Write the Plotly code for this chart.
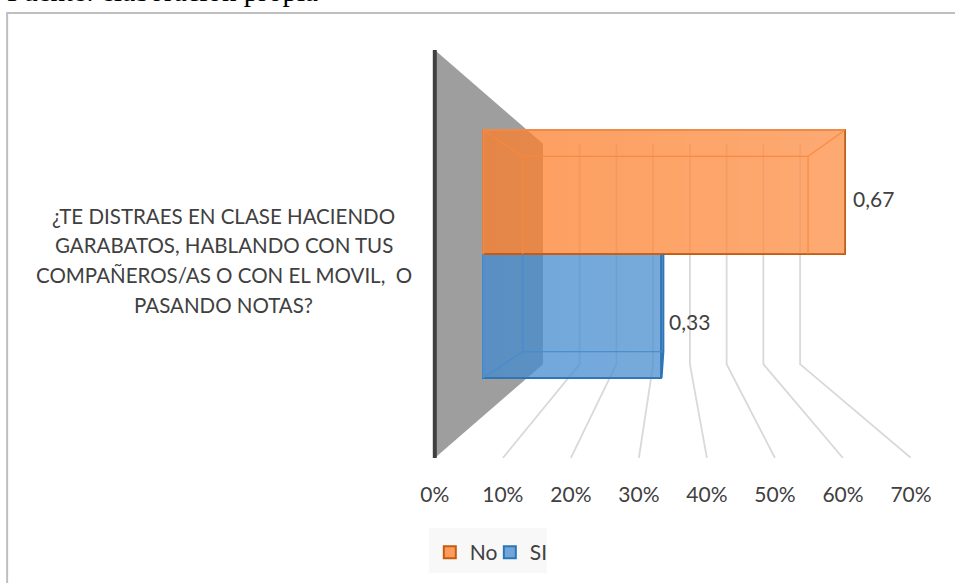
import plotly.graph_objects as go

# --- data ---
series_names = ["No", "SI"]
series_values = [0.67, 0.33]
category_lines = ["¿TE DISTRAES EN CLASE HACIENDO", "GARABATOS, HABLANDO CON TUS",
                  "COMPAÑEROS/AS O CON EL MOVIL,  O", "PASANDO NOTAS?"]
tick_values = [0, 0.1, 0.2, 0.3, 0.4, 0.5, 0.6, 0.7]
source_text = "Fuente: elaboración propia"

# --- page geometry ---
W, H = 955, 583
X_MIN = -0.01                   # small room left of 0% so the thick axis line is not clipped
L, R, T, B = 435 + X_MIN * 680, 911, 50, 458


def pap_x(p):
    return (p - L) / (R - L)


def pap_y(p):
    return (B - p) / (B - T)


# --- perspective of the 3D look (axis units) ---
VX = (670 - 435) / 680      # vanishing point on the value axis
S_BACK = 0.54               # scale of the back wall
S_BAR_FRONT = 0.794         # scale of the bars' front faces
S_BAR_BACK = 0.626          # scale of the bars' back faces
BAR_H = 0.765               # half height of the pair of bars (axis units)


def px(v, s):
    return VX + (v - VX) * s


def py(y, s):
    return y * s


def path(points):
    return "M " + " L ".join(f"{x:.5f} {y:.5f}" for x, y in points)


FONT = "Lato"
TXT = "#404040"
fill = ["rgba(252,126,42,0.75)", "rgba(66,138,206,0.75)"]
edge = ["#C55A11", "#2E75B6"]
soft_edge = ["#EE8B4A", "#4A90D0"]
inner = ["rgba(250,135,60,0.9)", "rgba(70,140,205,0.9)"]
glow = [0.12, 0.04]
spans = [(0, 1), (-1, 0)]   # upper / lower half of the bar block
label_shift = [-6, -6]
legend_ids = ["legend", "legend2"]

fig = go.Figure()
shapes = []

# side wall
shapes.append(dict(type="path", xref="x", yref="y", layer="below", fillcolor="#9E9E9E",
                   line=dict(width=0),
                   path=path([(px(0, 1), py(1, 1)), (px(0, S_BACK), py(1, S_BACK)),
                              (px(0, S_BACK), py(-1, S_BACK)), (px(0, 1), py(-1, 1))]) + " Z"))
# gridlines: back wall then floor
for t in tick_values[1:]:
    shapes.append(dict(type="path", xref="x", yref="y", layer="below",
                       line=dict(color="#D9D9D9", width=1.8),
                       path=path([(px(t, S_BACK), py(1, S_BACK)), (px(t, S_BACK), py(-1, S_BACK)),
                                  (px(t, 1), py(-1, 1))])))
# chart frame
shapes.append(dict(type="path", xref="paper", yref="paper", layer="below",
                   line=dict(color="#BFBFBF", width=2),
                   path=path([(pap_x(7.5), pap_y(H)), (pap_x(7.5), pap_y(13)), (pap_x(W), pap_y(13))])))
# legend plate
shapes.append(dict(type="rect", xref="paper", yref="paper", layer="below", line=dict(width=0),
                   fillcolor="#F8F8F8", x0=pap_x(429), x1=pap_x(547), y0=pap_y(573), y1=pap_y(528)))

# axis line
fig.add_trace(go.Scatter(
    x=[0, 0], y=[-1, 1], mode="lines", line=dict(color="#404040", width=4),
    showlegend=False, hoverinfo="skip", cliponaxis=False))

# bars: lower one first
for i in [1, 0]:
    v = series_values[i]
    lo, hi = spans[i]
    yf0, yf1 = lo * BAR_H * S_BAR_FRONT, hi * BAR_H * S_BAR_FRONT
    yb0, yb1 = lo * BAR_H * S_BAR_BACK, hi * BAR_H * S_BAR_BACK
    x0f, x1f = px(0, S_BAR_FRONT), px(v, S_BAR_FRONT)
    x0b, x1b = px(0, S_BAR_BACK), px(v, S_BAR_BACK)
    # front face as a real bar trace (carries the legend entry)
    fig.add_trace(go.Bar(
        orientation="h", name=series_names[i], legend=legend_ids[i],
        y=[(yf0 + yf1) / 2], x=[x1f - x0f], base=[x0f], width=[yf1 - yf0],
        marker=dict(color=fill[i], line=dict(color=edge[i], width=2)),
        hoverinfo="skip", cliponaxis=False))
    # soft highlight towards the right
    fig.add_trace(go.Scatter(
        x=[x0f, x1f, x1f, x0f, x0f], y=[yf1, yf1, yf0, yf0, yf1],
        mode="lines", line=dict(width=0), fill="toself",
        fillgradient=dict(type="horizontal",
                          colorscale=[[0, "rgba(255,255,255,0)"], [1, f"rgba(255,255,255,{glow[i]})"]]),
        showlegend=False, hoverinfo="skip", cliponaxis=False))
    # inner box edges
    if i == 1:
        xs = [x0f, x0b, None, x0b, x1b, None, x0b, x0b]
        ys = [yf0, yb0, None, yb0, yb0, None, yb0, yf1]
    else:
        xs = [x0f, x0b, None, x1f, x1b, None, x0b, x1b, None, x0b, x0b, None, x1b, x1b]
        ys = [yf1, yb1, None, yf1, yb1, None, yb1, yb1, None, yb1, yf0, None, yb1, yf0]
    fig.add_trace(go.Scatter(
        x=xs, y=ys, mode="lines", line=dict(color=inner[i], width=1.2),
        showlegend=False, hoverinfo="skip", cliponaxis=False))
    # softer top and left edges of the front face
    if i == 0:
        xs, ys = [x0f, x0f, x1f], [yf0, yf1, yf1]
    else:
        xs, ys = [x0f, x0f], [yf0, yf1]
    fig.add_trace(go.Scatter(
        x=xs, y=ys, mode="lines", line=dict(color=soft_edge[i], width=2),
        showlegend=False, hoverinfo="skip", cliponaxis=False))
    # blue bar: heavy right side running to the back
    if i == 1:
        fig.add_trace(go.Scatter(
            x=[x1f, x1b, x1b], y=[yf0, yb0, yf1], mode="lines",
            line=dict(color=edge[i], width=2.2),
            showlegend=False, hoverinfo="skip", cliponaxis=False))
    # data label
    fig.add_annotation(
        x=x1f, y=(yf0 + yf1) / 2, xref="x", yref="y", xanchor="left", yanchor="middle",
        xshift=6, yshift=label_shift[i], showarrow=False,
        text=f"{v:.2f}".replace(".", ","), font=dict(family=FONT, size=21, color=TXT))

# category label
for k, line in enumerate(category_lines):
    fig.add_annotation(
        x=pap_x(224), y=pap_y(216 + 29.5 * k), xref="paper", yref="paper",
        xanchor="center", yanchor="middle", align="center", showarrow=False,
        text=line, font=dict(family=FONT, size=20.5, color=TXT))

# source line, cut off by the top of the page as in the reference
fig.add_annotation(
    x=pap_x(7), y=pap_y(9), xref="paper", yref="paper", xanchor="left", yanchor="bottom",
    showarrow=False, xshift=-2, text=source_text,
    font=dict(family="Liberation Serif", size=29, color="#000000"))

legend_style = dict(orientation="h", yanchor="top", xanchor="left", y=pap_y(532),
                    bgcolor="rgba(0,0,0,0)", font=dict(family=FONT, size=21, color=TXT),
                    itemwidth=30)

fig.update_layout(
    width=W, height=H, autosize=False,
    paper_bgcolor="white", plot_bgcolor="rgba(0,0,0,0)",
    margin=dict(l=L, r=W - R, t=T, b=H - B, autoexpand=False),
    barmode="overlay", bargap=0,
    xaxis=dict(range=[X_MIN, 0.7], tickvals=tick_values, tickformat=".0%", showgrid=False,
               zeroline=False, showline=False, ticks="", ticklabelstandoff=22,
               tickfont=dict(family=FONT, size=21, color=TXT)),
    yaxis=dict(range=[-1, 1], visible=False),
    legend=dict(x=pap_x(430), **legend_style),
    legend2=dict(x=pap_x(490), **legend_style),
    shapes=shapes,
)

fig.write_html("out.html", config=dict(displayModeBar=False),
               post_script="document.body.style.margin='0';")
